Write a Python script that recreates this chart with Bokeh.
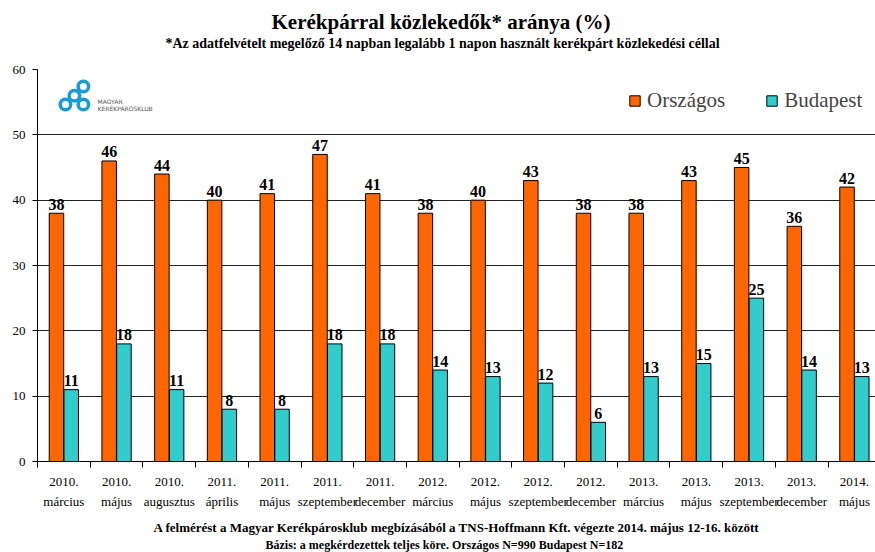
from bokeh.plotting import figure
from bokeh.models import Range1d, FixedTicker, LinearAxis, Title, Legend, LegendItem, ColumnDataSource
from bokeh.core.properties import value
from bokeh.embed import file_html
from bokeh.resources import INLINE

# ---- data ----
years = ["2010.", "2010.", "2010.", "2011.", "2011.", "2011.", "2011.", "2012.",
         "2012.", "2012.", "2012.", "2013.", "2013.", "2013.", "2013.", "2014."]
months = ["március", "május", "augusztus", "április", "május", "szeptember", "december", "március",
          "május", "szeptember", "december", "március", "május", "szeptember", "december", "május"]
orszagos = [38, 46, 44, 40, 41, 47, 41, 38, 40, 43, 38, 38, 43, 45, 36, 42]
budapest = [11, 18, 11, 8, 8, 18, 18, 14, 13, 12, 6, 13, 15, 25, 14, 13]
y_ticks = [0, 10, 20, 30, 40, 50, 60]
series_names = ["Országos", "Budapest"]

title_text = "Kerékpárral közlekedők* aránya (%)"
subtitle_text = "*Az adatfelvételt megelőző 14 napban legalább 1 napon használt kerékpárt közlekedési céllal"
footer1_text = "A felmérést a Magyar Kerékpárosklub megbízásából a TNS-Hoffmann Kft. végezte 2014. május 12-16. között"
footer2_text = "Bázis: a megkérdezettek teljes köre. Országos N=990 Budapest N=182"
logo_lines = ["MAGYAR", "KERÉKPÁROSKLUB"]

# ---- styling ----
ORANGE = "#FF6600"
TEAL = "#33CCCC"
SERIF = "Liberation Serif"
LOGO_BLUE = "#1a9bd7"

n = len(months)
centers = list(range(1, n + 1))
bounds = [c - 0.5 for c in centers] + [n + 0.5]
dodge = 0.14
bar_w = 0.275

src = ColumnDataSource(dict(
    xo=[c - dodge for c in centers],
    xb=[c + dodge for c in centers],
    o=orszagos, b=budapest,
    ol=[str(v) for v in orszagos], bl=[str(v) for v in budapest],
))

p = figure(frame_width=838, frame_height=392, output_backend="svg", toolbar_location=None,
           x_range=Range1d(0.5, 16.4), y_range=Range1d(0, 60),
           min_border_left=37, min_border_right=0, min_border_top=69, min_border_bottom=91,
           background_fill_color="white", border_fill_color="white")
p.outline_line_color = None

r_o = p.vbar(x="xo", top="o", width=bar_w, source=src, fill_color=ORANGE, line_color="black", line_width=1)
r_b = p.vbar(x="xb", top="b", width=bar_w, source=src, fill_color=TEAL, line_color="black", line_width=1)

lbl_kw = dict(source=src, text_font=value(SERIF), text_font_size="16px", text_font_style="bold",
              text_align="center", text_baseline="alphabetic", y_offset=-9, text_color="black")
p.text(x="xo", y="o", text="ol", **lbl_kw)
p.text(x="xb", y="b", text="bl", **lbl_kw)

# y axis
ya = p.yaxis[0]
ya.ticker = FixedTicker(ticks=y_ticks)
ya.major_tick_out = 5
ya.major_tick_in = 0
ya.minor_tick_line_color = None
ya.axis_line_color = "black"
ya.major_tick_line_color = "black"
ya.major_label_text_font = SERIF
ya.major_label_text_font_size = "13px"
ya.major_label_text_color = "black"
ya.major_label_standoff = 7

p.ygrid.ticker = FixedTicker(ticks=y_ticks)
p.ygrid.grid_line_color = "#222222"
p.ygrid.grid_line_width = 1
p.xgrid.visible = False

# x axis: years + category boundary ticks
xa = p.xaxis[0]
xa.ticker = FixedTicker(ticks=centers, minor_ticks=bounds)
xa.major_label_overrides = {c: y for c, y in zip(centers, years)}
xa.major_tick_line_color = None
xa.major_tick_out = 0
xa.major_tick_in = 0
xa.minor_tick_out = 6
xa.minor_tick_in = 0
xa.minor_tick_line_color = "black"
xa.axis_line_color = "black"
xa.major_label_text_font = SERIF
xa.major_label_text_font_size = "13px"
xa.major_label_text_color = "black"
xa.major_label_standoff = 10

ma = LinearAxis(ticker=FixedTicker(ticks=centers),
                major_label_overrides={c: m for c, m in zip(centers, months)})
ma.axis_line_color = None
ma.major_tick_line_color = None
ma.minor_tick_line_color = None
ma.major_label_text_font = SERIF
ma.major_label_text_font_size = "13px"
ma.major_label_text_color = "black"
ma.major_label_standoff = -1
p.add_layout(ma, "below")

# titles (panels stack outward from the frame)
spacer = Title(text=" ", text_font=SERIF, text_font_size="1px", standoff=16)
sub = Title(text=subtitle_text, align="left", offset=128, text_font=SERIF, text_font_size="14px",
            text_font_style="bold", text_color="black", standoff=0)
main = Title(text=title_text, align="left", offset=234, text_font=SERIF, text_font_size="21px",
             text_font_style="bold", text_color="black", standoff=0)
p.add_layout(spacer, "above")
p.add_layout(sub, "above")
p.add_layout(main, "above")

f1 = Title(text=footer1_text, align="left", offset=116, text_font=SERIF, text_font_size="13px",
           text_font_style="bold", text_color="black", standoff=13)
f2 = Title(text=footer2_text, align="left", offset=228, text_font=SERIF, text_font_size="12px",
           text_font_style="bold", text_color="black", standoff=-12)
p.add_layout(f1, "below")
p.add_layout(f2, "below")

# legend
legend = Legend(items=[LegendItem(label=series_names[0], renderers=[r_o]),
                       LegendItem(label=series_names[1], renderers=[r_b])],
                orientation="horizontal", location=(591, 348),
                border_line_color=None, background_fill_alpha=0,
                glyph_width=13, glyph_height=13, label_height=20,
                label_text_font=SERIF, label_text_font_size="21px",
                label_standoff=6, spacing=40, padding=0, margin=0)
p.add_layout(legend)

# logo
logo_x = [1.37, 1.20, 1.03, 1.37]
logo_y = [57.4, 56.0, 54.65, 54.65]
p.scatter(logo_x, logo_y, marker="circle", size=10.5, fill_color=None,
          line_color=LOGO_BLUE, line_width=3.5)
p.text(x=[1.64, 1.64], y=[55.1, 54.0], text=logo_lines, text_font=value("DejaVu Sans"),
       text_font_size="6px", text_color="#555555", text_baseline="middle", text_align="left")

open("out.html", "w").write(file_html(p, INLINE))
